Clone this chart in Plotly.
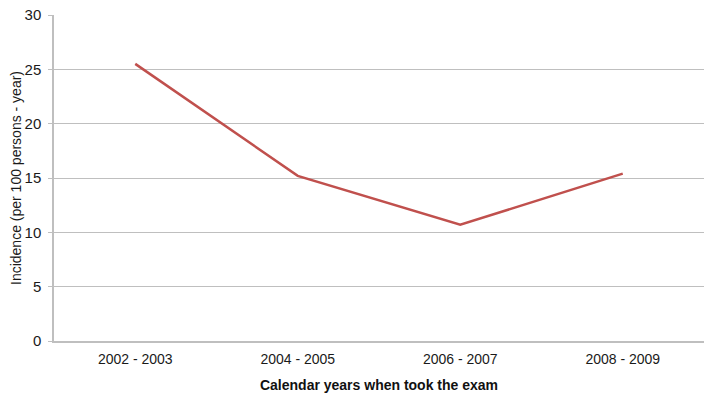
import plotly.graph_objects as go

categories = ["2002 - 2003", "2004 - 2005", "2006 - 2007", "2008 - 2009"]
incidence = [25.5, 15.2, 10.7, 15.4]
y_ticks = [0, 5, 10, 15, 20, 25, 30]

fig = go.Figure()
fig.add_trace(go.Scatter(
    x=categories, y=incidence, mode="lines",
    line=dict(color="#C0504D", width=2.5),
    showlegend=False,
))

font_family = "Liberation Sans, Arial, sans-serif"
fig.update_layout(
    width=714, height=402,
    margin=dict(l=54, r=10, t=15, b=61),
    paper_bgcolor="white", plot_bgcolor="white",
    font=dict(family=font_family, size=14, color="#1a1a1a"),
    xaxis=dict(
        type="category", range=[-0.5, 3.5], automargin=False,
        showgrid=False, showline=True, linecolor="#BFBFBF", linewidth=1.5,
        ticks="", tickfont=dict(size=14, color="#1a1a1a"), ticklabelstandoff=4,
        title=dict(text="<b>Calendar years when took the exam</b>",
                   font=dict(size=14, color="#111111"), standoff=15),
    ),
    yaxis=dict(
        range=[0, 30], tickvals=y_ticks, automargin=False,
        showgrid=True, gridcolor="#BFBFBF", gridwidth=1.2,
        showline=True, linecolor="#BFBFBF", linewidth=1.5,
        ticks="outside", ticklen=4, tickcolor="#BFBFBF",
        tickfont=dict(size=15, color="#1a1a1a"), ticklabelstandoff=4,
        ticklabeloverflow="allow",
        zeroline=False,
        title=dict(text="Incidence (per 100 persons - year)",
                   font=dict(size=14, color="#1a1a1a"), standoff=0),
    ),
)

fig.write_html(
    "out.html",
    config={"displayModeBar": False},
    post_script="document.body.style.margin='0';document.body.style.overflow='hidden';",
)
